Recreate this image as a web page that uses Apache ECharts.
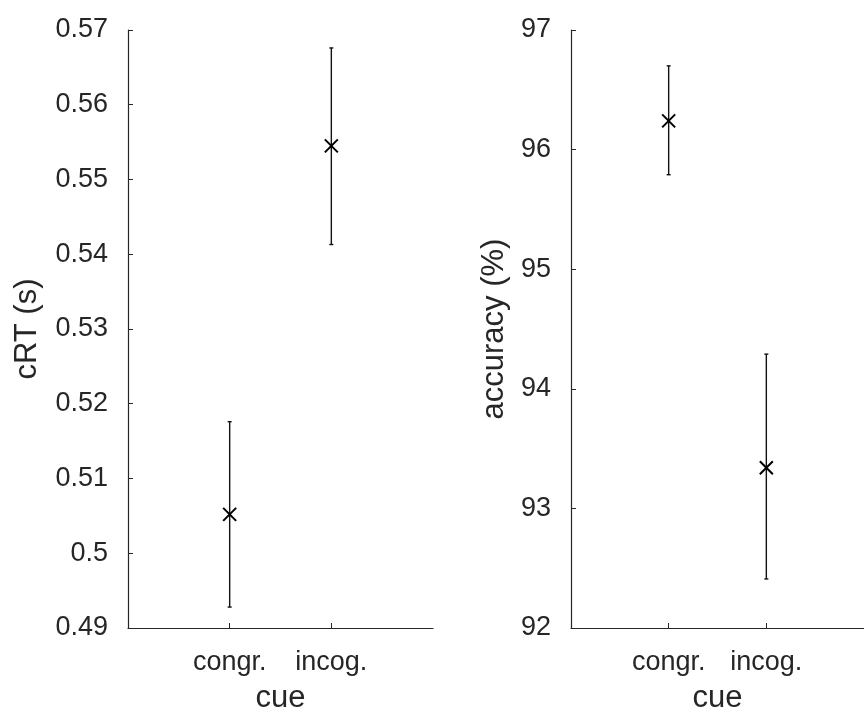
<!DOCTYPE html>
<html>
<head>
<meta charset="utf-8">
<script src="https://cdn.jsdelivr.net/npm/echarts@6/dist/echarts.min.js"></script>
<style>
html,body{margin:0;padding:0;background:#fff;}
#chart{width:864px;height:719px;}
</style>
</head>
<body>
<div id="chart"></div>
<script>
const categories = ['congr.', 'incog.'];
const rtMean = [0.5052, 0.5545];
const rtLow = [0.4928, 0.5413];
const rtHigh = [0.5176, 0.5676];
const accMean = [96.24, 93.34];
const accLow = [95.79, 92.41];
const accHigh = [96.70, 94.29];
const rtTicks = [0.49, 0.50, 0.51, 0.52, 0.53, 0.54, 0.55, 0.56, 0.57];
const accTicks = [92, 93, 94, 95, 96, 97];

const textColor = '#262626';
const FONT = 'Liberation Sans, Arial, Helvetica, sans-serif';

function renderItem(params, api) {
  const x = api.value(0), m = api.value(1), lo = api.value(2), hi = api.value(3);
  const pm = api.coord([x, m]);
  const pl = api.coord([x, lo]);
  const ph = api.coord([x, hi]);
  const cap = 2, s = 6.5;
  const st = {stroke: '#111', lineWidth: 1.4};
  const sx = {stroke: '#000', lineWidth: 2};
  return {
    type: 'group',
    children: [
      {type: 'line', shape: {x1: pl[0], y1: pl[1], x2: ph[0], y2: ph[1]}, style: st},
      {type: 'line', shape: {x1: pl[0]-cap, y1: pl[1], x2: pl[0]+cap, y2: pl[1]}, style: st},
      {type: 'line', shape: {x1: ph[0]-cap, y1: ph[1], x2: ph[0]+cap, y2: ph[1]}, style: st},
      {type: 'line', shape: {x1: pm[0]-s, y1: pm[1]-s, x2: pm[0]+s, y2: pm[1]+s}, style: sx},
      {type: 'line', shape: {x1: pm[0]-s, y1: pm[1]+s, x2: pm[0]+s, y2: pm[1]-s}, style: sx}
    ]
  };
}

function xAxisDef(gridIndex) {
  const pos = categories.map((c, i) => i + 1);
  return {
    type: 'value', gridIndex: gridIndex, min: 0, max: categories.length + 1,
    name: 'cue', nameLocation: 'middle', nameGap: 55,
    nameTextStyle: {color: textColor, fontSize: 31, fontFamily: FONT},
    axisLine: {show: true, lineStyle: {color: textColor, width: 1.2}},
    axisTick: {show: true, inside: true, length: 5, customValues: pos, lineStyle: {color: textColor}},
    axisLabel: {show: true, customValues: pos, margin: 21, color: textColor, fontSize: 27, fontFamily: FONT,
      formatter: v => categories[Math.round(v) - 1] || ''},
    splitLine: {show: false}
  };
}

function yAxisDef(gridIndex, name, ticks, gap) {
  return {
    type: 'value', gridIndex: gridIndex,
    min: ticks[0], max: ticks[ticks.length - 1], interval: ticks[1] - ticks[0],
    name: name, nameLocation: 'middle', nameGap: gap,
    nameTextStyle: {color: textColor, fontSize: 31, fontFamily: FONT},
    axisLine: {show: true, lineStyle: {color: textColor, width: 1.2}},
    axisTick: {show: true, inside: true, length: 5, lineStyle: {color: textColor}},
    axisLabel: {show: true, margin: 20, color: textColor, fontSize: 27, fontFamily: FONT,
      formatter: v => String(parseFloat(v.toFixed(4)))},
    splitLine: {show: false}
  };
}

const chart = echarts.init(document.getElementById('chart'));
chart.setOption({
  backgroundColor: '#fff',
  animation: false,
  grid: [
    {left: 128, top: 30, width: 305, height: 603},
    {left: 571, top: 30, width: 305, height: 603}
  ],
  xAxis: [xAxisDef(0), xAxisDef(1)],
  yAxis: [yAxisDef(0, 'cRT (s)', rtTicks, 85), yAxisDef(1, 'accuracy (%)', accTicks, 61)],
  series: [
    {type: 'custom', xAxisIndex: 0, yAxisIndex: 0, renderItem: renderItem, clip: false,
      data: categories.map((c, i) => [i + 1, rtMean[i], rtLow[i], rtHigh[i]])},
    {type: 'custom', xAxisIndex: 1, yAxisIndex: 1, renderItem: renderItem, clip: false,
      data: categories.map((c, i) => [i + 1, accMean[i], accLow[i], accHigh[i]])}
  ]
});
</script>
</body>
</html>
